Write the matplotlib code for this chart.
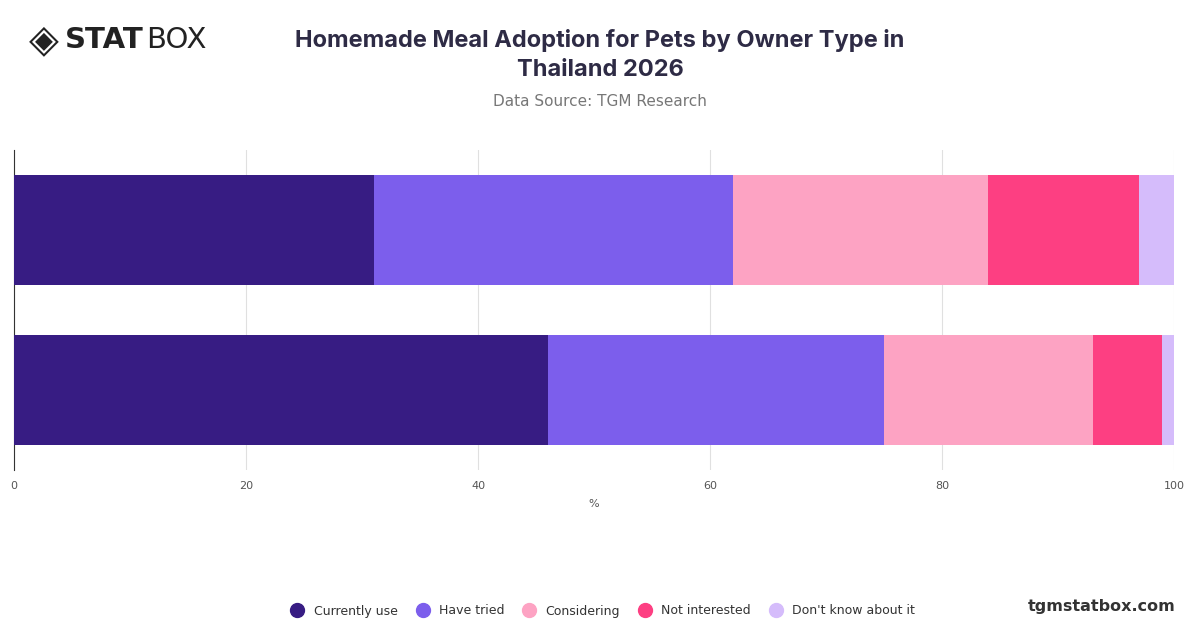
import matplotlib
matplotlib.use("Agg")
import matplotlib.pyplot as plt
from matplotlib.lines import Line2D
import numpy as np

categories = ["Owner type A", "Owner type B"]
series_names = ["Currently use", "Have tried", "Considering", "Not interested", "Don't know about it"]
values = {
    "Currently use": [31, 46],
    "Have tried": [31, 29],
    "Considering": [22, 18],
    "Not interested": [13, 6],
    "Don't know about it": [3, 1],
}
colors = ["#371c83", "#7c5eec", "#fda3c3", "#fd3f82", "#d5bcfb"]
xticks = [0, 20, 40, 60, 80, 100]

W, H = 1200, 628
fig = plt.figure(figsize=(W/100, H/100), dpi=100)
ax = fig.add_axes([14/W, 1-470/H, (1174-14)/W, (470-150)/H])

y = np.arange(len(categories))
left = np.zeros(len(categories))
for name, c in zip(series_names, colors):
    v = np.array(values[name], dtype=float)
    ax.barh(y, v, left=left, height=0.69, color=c, zorder=3)
    left += v
ax.set_ylim(1.5, -0.5)
ax.set_xlim(0, 100)
ax.set_xticks(xticks)
ax.set_xticklabels([str(t) for t in xticks], fontsize=8, color="#555555")
ax.set_yticks([])
ax.grid(axis="x", color="#e0e0e0", linewidth=0.8, zorder=0)
for s in ["top", "right", "bottom"]:
    ax.spines[s].set_visible(False)
ax.spines["left"].set_color("#333333")
ax.tick_params(axis="x", length=0, pad=8)
ax.set_xlabel("%", fontsize=8, color="#555555", labelpad=6)

fig.text(0.5, 1-40/H, "Homemade Meal Adoption for Pets by Owner Type in", ha="center", va="center",
         fontsize=17, fontweight="bold", color="#2e2b45", family="Inter")
fig.text(0.5, 1-70/H, "Thailand 2026", ha="center", va="center",
         fontsize=17, fontweight="bold", color="#2e2b45", family="Inter")
fig.text(0.5, 1-101/H, "Data Source: TGM Research", ha="center", va="center",
         fontsize=11, color="#777777")

fig.text(65/W, 1-40/H, "STAT", ha="left", va="center", fontsize=21, fontweight="heavy", color="#222222")
fig.text(146/W, 1-40/H, "BOX", ha="left", va="center", fontsize=21, color="#222222")
fig.text(44/W, 1-40/H, "◈", ha="center", va="center", fontsize=28, color="#222222", family="DejaVu Sans")
fig.text(1176/W, 1-606/H, "tgmstatbox.com", ha="right", va="center", fontsize=11.5, fontweight="bold", color="#333333")

handles = [Line2D([], [], marker="o", linestyle="", markersize=10, markerfacecolor=c, markeredgecolor=c) for c in colors]
fig.legend(handles, series_names, loc="center", bbox_to_anchor=(0.5, 1-611/H), ncol=5, frameon=False,
           fontsize=9, handletextpad=0.3, columnspacing=1.0, labelcolor="#333333")

fig.savefig("out.png", dpi=100)
